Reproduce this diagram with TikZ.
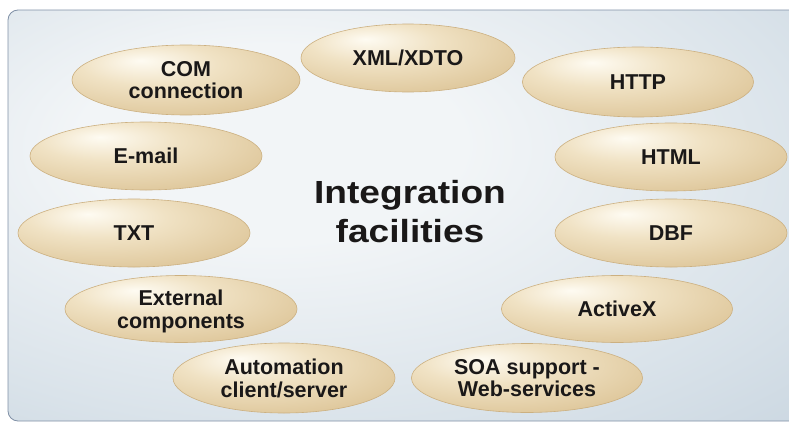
\documentclass[tikz,border=0pt]{standalone}
\usepackage{fontspec}
\setmainfont{Liberation Sans}
\usetikzlibrary{shapes, positioning, calc}
\definecolor{tanlight}{RGB}{254,251,242}
\definecolor{tanmid}{RGB}{240,226,196}
\definecolor{tandark}{RGB}{210,180,126}
\definecolor{tanline}{RGB}{204,176,128}
\definecolor{bglight}{RGB}{242,245,247}
\definecolor{bgmid}{RGB}{218,227,234}
\definecolor{bgdark}{RGB}{184,200,214}
\definecolor{bgline}{RGB}{128,144,166}
\definecolor{txt}{RGB}{26,24,24}
\pgfdeclareradialshading{tanshade}{\pgfpoint{-10bp}{14bp}}{color(0bp)=(tanlight); color(15bp)=(tanmid); color(50bp)=(tandark); color(80bp)=(tandark)}
\pgfdeclareradialshading{bgshade}{\pgfpoint{-10bp}{10bp}}{color(0bp)=(bglight); color(12bp)=(bglight); color(32bp)=(bgmid); color(58bp)=(bgdark); color(90bp)=(bgdark)}

\begin{document}
\begin{tikzpicture}[x=1pt,y=-1pt,
    facility/.style={ellipse, draw=tanline, line width=0.6pt, shading=tanshade,
      inner sep=0pt, align=center, text=txt, text depth=0pt,
      font=\fontsize{21.5}{22.5}\selectfont\bfseries},
    facility size/.style 2 args={minimum width=#1pt, minimum height=#2pt}]
        \useasboundingbox (0,0) rectangle (789,423);
        \shade[shading=bgshade, draw=bgline, line width=0.8pt, rounded corners=10pt]
          (8,10) rectangle (810,421);

        \node[txt,xscale=1.16,align=center,font=\fontsize{32}{39}\selectfont\bfseries]
          (title) at (410,212) {Integration\\facilities};

        \node[facility, facility size={214}{68}] (xml) at (408,58) {XML/XDTO};
        \node[facility, facility size={228}{70}] (com) at (186,80) {COM\\connection};
        \node[facility, facility size={231}{70}] (http) at (638,82) {HTTP};
        \node[facility, facility size={232}{68}] (email) at (146,156) {E-mail};
        \node[facility, facility size={232}{68}] (html) at (671,157) {HTML};
        \node[facility, facility size={232}{68}] (txtfmt) at (134,233) {TXT};
        \node[facility, facility size={232}{68}] (dbf) at (671,233) {DBF};
        \node[facility, facility size={232}{67}] (extcomp) at (181,309) {External\\components};
        \node[facility, facility size={231}{67}] (activex) at (617,309) {ActiveX};
        \node[facility, facility size={222}{70}] (automation) at (284,378) {Automation\\client/server};
        \node[facility, facility size={231}{69}] (soa) at (527,378) {SOA support -\\Web-services};
      \end{tikzpicture}
\end{document}
